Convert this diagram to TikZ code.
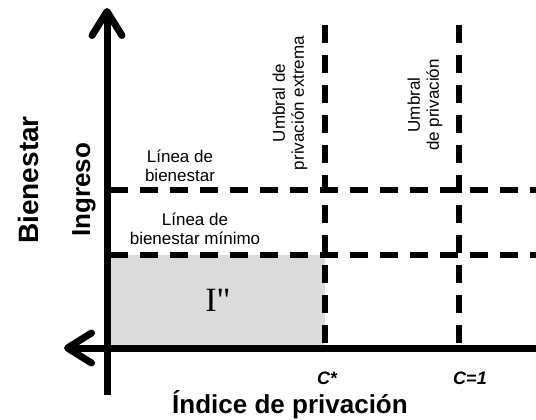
\documentclass[tikz,border=0pt]{standalone}
\usepackage{fontspec}
\setmainfont{Liberation Sans}
\newfontfamily\romanI{Liberation Serif}
\usetikzlibrary{arrows.meta}
\begin{document}
\begin{tikzpicture}[x=1pt,y=-1pt]
\tikzstyle{axis} = [line width=7pt, -{Straight Barb[length=24pt,width=30pt,round]}];
\tikzstyle{guide} = [line width=5.8pt, dash pattern=on 18pt off 12pt];
\tikzstyle{lbl} = [font=\fontsize{17}{19}\selectfont, align=center, inner sep=0pt];
\tikzstyle{axlbl} = [font=\bfseries\fontsize{26}{30}\selectfont, inner sep=0pt];
\tikzstyle{cval} = [font=\bfseries\itshape\fontsize{18}{20}\selectfont, inner sep=0pt];
\useasboundingbox (0,0) rectangle (536,420);
\coordinate (o) at (107,348);
\coordinate (ytop) at (107,8);
\coordinate (ybot) at (107,395);
\coordinate (xleft) at (64,348);
\coordinate (xright) at (536,348);
\coordinate (b1l) at (110,190);
\coordinate (b1r) at (536,190);
\coordinate (b2l) at (110,255);
\coordinate (b2r) at (536,255);
\coordinate (c1t) at (325,25);
\coordinate (c1b) at (325,348);
\coordinate (c2t) at (459,25);
\coordinate (c2b) at (459,348);
\fill[black!14] (107,255) rectangle (c1b);
\draw[guide] (b1l) -- (b1r);
\draw[guide] (b2l) -- (b2r);
\draw[guide] (c1t) -- (c1b);
\draw[guide] (c2t) -- (c2b);
\draw[axis] (ybot) -- (ytop);
\draw[axis] (xright) -- (xleft);
\node[lbl] (lb) at (180,166) {Línea de\\bienestar};
\node[lbl] (lbm) at (195,229) {Línea de\\bienestar mínimo};
\node[lbl, rotate=90] (ue) at (290,103) {Umbral de\\privación extrema};
\node[lbl, rotate=90] (up) at (425,105) {Umbral\\de privación};
\node[font=\romanI\fontsize{34}{34}\selectfont, inner sep=0pt] (area) at (218,300) {I"};
\node[cval] (cs) at (327,378) {C*};
\node[cval] (c1) at (470,378) {C=1};
\node[axlbl] (xl) at (290,405) {Índice de privación};
\node[axlbl, rotate=90, font=\bfseries\fontsize{28}{30}\selectfont] (yl) at (28,180) {Bienestar};
\node[axlbl, rotate=90] (yi) at (84,190) {Ingreso};
\end{tikzpicture}
\end{document}
